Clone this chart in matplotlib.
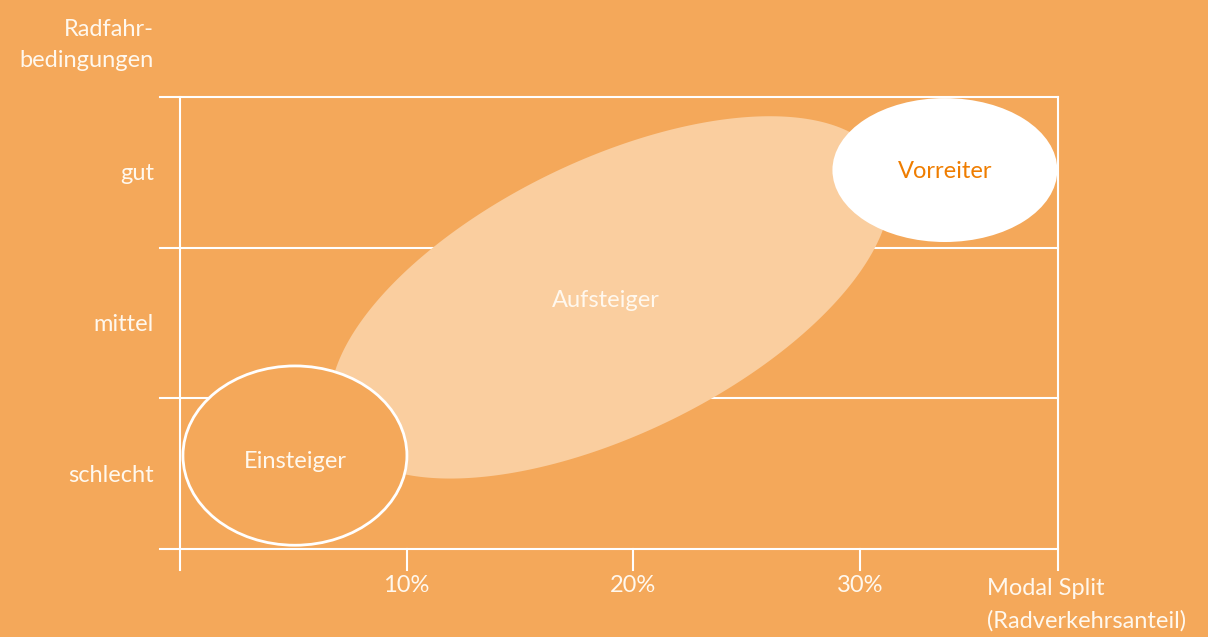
import numpy as np
import matplotlib.pyplot as plt
from matplotlib.patches import Ellipse

plt.rcParams['font.family'] = ['Lato', 'DejaVu Sans']

BG = '#F4A85A'
LIGHT = '#FACE9F'
TXT = '#FFF8EE'
ORANGE = '#EF7D00'
FS = 17

# category axis (Radfahrbedingungen) and modal split ticks
levels = ['schlecht', 'mittel', 'gut']
xticks = [10, 20, 30]
xtick_labels = ['10%', '20%', '30%']
x_max = 38.73

# groups: centre (modal split %, condition level), size
groups = ['Einsteiger', 'Aufsteiger', 'Vorreiter']
centre_x = [5.07, 18.97, 33.74]
centre_y = [0.62, 1.67, 2.515]
width_x = [9.88, 0, 9.92]
height_y = [1.19, 0, 0.955]
# Aufsteiger is a tilted ellipse, given in screen pixels
auf_major, auf_minor, auf_angle = 608, 274, 25.9

fig = plt.figure(figsize=(12.08, 6.37), dpi=100)
fig.patch.set_facecolor(BG)
ax = fig.add_axes([180/1208, 88/637, 878/1208, 452/637])
ax.set_facecolor(BG)
ax.set_xlim(0, x_max)
ax.set_ylim(0, 3)
for s in ax.spines.values():
    s.set_visible(False)
ax.set_xticks([])
ax.set_yticks([])

# grid lines
for y in range(4):
    ax.plot([-0.88, x_max], [y, y], color='white', lw=1.5, clip_on=False, zorder=1)
ax.plot([0, 0], [-0.14, 3], color='white', lw=1.5, clip_on=False, zorder=1)
ax.plot([x_max, x_max], [-0.14, 3], color='white', lw=1.5, clip_on=False, zorder=1)
for xt, lab in zip(xticks, xtick_labels):
    ax.plot([xt, xt], [-0.14, 0], color='white', lw=1.5, clip_on=False, zorder=1)
    ax.text(xt, -0.245, lab, ha='center', va='center', color=TXT, fontsize=FS)

for i, lab in enumerate(levels):
    ax.text(-1.15, i + 0.49, lab, ha='right', va='center', color=TXT, fontsize=FS,
            clip_on=False)

ax.text(-1.15, 3.345, 'Radfahr-\nbedingungen', ha='right', va='center', color=TXT,
        fontsize=FS, linespacing=1.6)
ax.text(35.6, -0.37, 'Modal Split\n(Radverkehrsanteil)', ha='left', va='center',
        color=TXT, fontsize=FS, linespacing=1.65)

# Aufsteiger: tilted ellipse converted from pixels into data units
px_x = 878 / x_max
px_y = 452 / 3
t = np.linspace(0, 2 * np.pi, 400)
th = np.radians(auf_angle)
a, b = auf_major / 2, auf_minor / 2
dx = a * np.cos(t) * np.cos(th) - b * np.sin(t) * np.sin(th)
dy = a * np.cos(t) * np.sin(th) + b * np.sin(t) * np.cos(th)
ax.fill(centre_x[1] + dx / px_x, centre_y[1] + dy / px_y, color=LIGHT, lw=0, zorder=2)
ax.text(centre_x[1] - 0.2, centre_y[1] - 0.02, groups[1], ha='center', va='center',
        color=TXT, fontsize=FS, zorder=5)

# Einsteiger
ax.add_patch(Ellipse((centre_x[0], centre_y[0]), width_x[0], height_y[0],
                     facecolor=BG, edgecolor='white', lw=2, zorder=3, clip_on=False))
ax.text(centre_x[0], centre_y[0] - 0.04, groups[0], ha='center', va='center',
        color=TXT, fontsize=FS, zorder=5)

# Vorreiter
ax.add_patch(Ellipse((centre_x[2], centre_y[2]), width_x[2], height_y[2],
                     facecolor='white', edgecolor='none', zorder=3))
ax.text(centre_x[2], centre_y[2] - 0.01, groups[2], ha='center', va='center',
        color=ORANGE, fontsize=FS, zorder=5)

fig.savefig('out.png', dpi=100, facecolor=BG)
